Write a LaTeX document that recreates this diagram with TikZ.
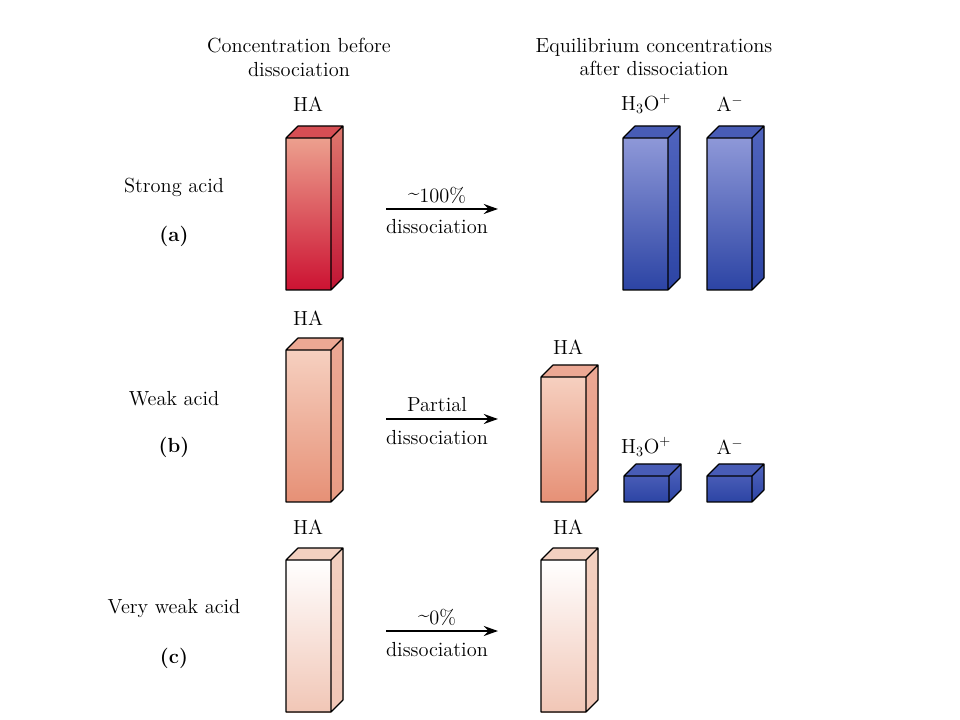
\documentclass[tikz,border=0pt]{standalone}
\usepackage{xcolor}
\definecolor{strongtop}{RGB}{236,160,142}
\definecolor{strongbot}{RGB}{204,18,50}
\definecolor{strongside}{RGB}{192,20,52}
\definecolor{strongsidetop}{RGB}{222,120,110}
\definecolor{strongcap}{RGB}{214,78,84}
\definecolor{weaktop}{RGB}{246,208,192}
\definecolor{weakbot}{RGB}{230,144,118}
\definecolor{weakside}{RGB}{232,156,132}
\definecolor{weakcap}{RGB}{236,168,148}
\definecolor{faintbot}{RGB}{241,198,182}
\definecolor{faintside}{RGB}{243,208,192}
\definecolor{ionlight}{RGB}{142,152,216}
\definecolor{iondark}{RGB}{44,68,164}
\definecolor{ionside}{RGB}{80,100,190}
\definecolor{ioncap}{RGB}{72,92,182}
\usetikzlibrary{arrows.meta,positioning}

% bar: left x, front top y, bottom y, front top/bottom colour, side top/bottom colour, cap colour
\newcommand{\drawbar}[8]{%
  \fill[top color=#4,bottom color=#5] (#1,#2) rectangle (#1+45,#3);
  \fill[top color=#6,bottom color=#7] (#1+45,#2) -- (#1+57,#2-12) -- (#1+57,#3-12) -- (#1+45,#3) -- cycle;
  \fill[#8] (#1,#2) -- (#1+12,#2-12) -- (#1+57,#2-12) -- (#1+45,#2) -- cycle;
  \draw[line width=0.8pt,line join=round] (#1,#2) rectangle (#1+45,#3)
    (#1,#2) -- (#1+12,#2-12) -- (#1+57,#2-12) -- (#1+45,#2)
    (#1+57,#2-12) -- (#1+57,#3-12) -- (#1+45,#3);
}

\begin{document}
\begin{tikzpicture}[x=0.025cm,y=-0.025cm,font=\fontsize{14.5}{17}\selectfont]
  \useasboundingbox (0,0) rectangle (960,720);

  % headings
  \node[align=center] (hbefore) at (299,57) {Concentration before\\dissociation};
  \node[align=center] (hafter) at (654,57) {Equilibrium concentrations\\after dissociation};

  % (a) strong acid
  \node (sname) at (174,187) {Strong acid};
  \node (slab) at (174,236) {\bfseries (a)};
  \drawbar{286}{138}{290}{strongtop}{strongbot}{strongsidetop}{strongside}{strongcap}
  \node (sha) at (308,104) {HA};
  \coordinate (sfrom) at (386,209);
  \coordinate (sto) at (498,209);
  \draw[-{Stealth[length=10pt,width=7pt]},line width=1.8pt] (sfrom) -- (sto);
  \node (stop) at (437,195) {\raisebox{0.3ex}{\char`\~}100\%};
  \node (sbot) at (437,227) {dissociation};
  \drawbar{623}{138}{290}{ionlight}{iondark}{ionside}{iondark}{ioncap}
  \drawbar{707}{138}{290}{ionlight}{iondark}{ionside}{iondark}{ioncap}
  \node (shyd) at (646,104) {H$_3$O$^+$};
  \node (sanion) at (730,104) {A$^-$};

  % (b) weak acid
  \node (wname) at (174,399) {Weak acid};
  \node (wlab) at (174,447) {\bfseries (b)};
  \drawbar{286}{350}{502}{weaktop}{weakbot}{weakcap}{weakside}{weakcap}
  \node (wha) at (308,318) {HA};
  \coordinate (wfrom) at (386,419);
  \coordinate (wto) at (498,419);
  \draw[-{Stealth[length=10pt,width=7pt]},line width=1.8pt] (wfrom) -- (wto);
  \node (wtop) at (437,405) {Partial};
  \node (wbot) at (437,438) {dissociation};
  \drawbar{541}{377}{502}{weaktop}{weakbot}{weakcap}{weakside}{weakcap}
  \node (wha2) at (568,347) {HA};
  \drawbar{624}{476}{502}{ioncap}{iondark}{ionside}{iondark}{ioncap}
  \drawbar{707}{476}{502}{ioncap}{iondark}{ionside}{iondark}{ioncap}
  \node (whyd) at (646,447) {H$_3$O$^+$};
  \node (wanion) at (730,447) {A$^-$};

  % (c) very weak acid
  \node (vname) at (174,609) {Very weak acid};
  \node (vlab) at (174,658) {\bfseries (c)};
  \drawbar{286}{560}{712}{white}{faintbot}{faintside}{faintbot}{faintside}
  \node (vha) at (308,527) {HA};
  \coordinate (vfrom) at (386,631);
  \coordinate (vto) at (498,631);
  \draw[-{Stealth[length=10pt,width=7pt]},line width=1.8pt] (vfrom) -- (vto);
  \node (vtop) at (437,617) {\raisebox{0.3ex}{\char`\~}0\%};
  \node (vbot) at (437,650) {dissociation};
  \drawbar{541}{560}{712}{white}{faintbot}{faintside}{faintbot}{faintside}
  \node (vha2) at (568,527) {HA};
\end{tikzpicture}
\end{document}
